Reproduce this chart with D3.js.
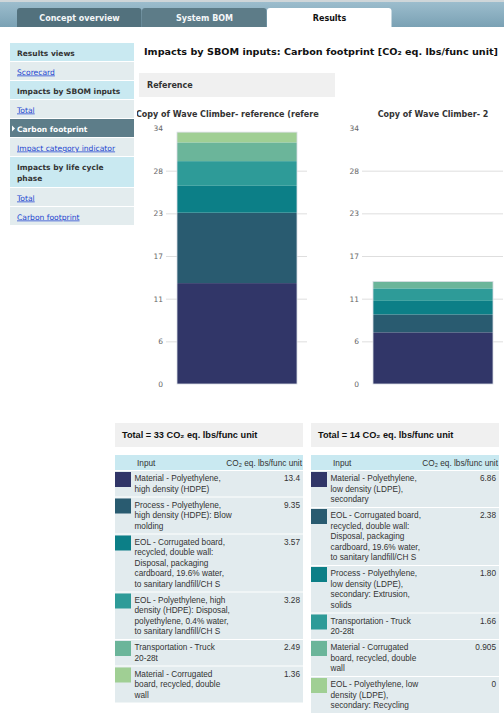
<!DOCTYPE html>
<html>
<head>
<meta charset="utf-8">
<script src="https://cdn.jsdelivr.net/npm/d3@7"></script>
<style>
html, body { margin: 0; padding: 0; background: #fff; }
svg { display: block; }
</style>
</head>
<body>
<svg id="page" width="504" height="724"></svg>
<script>
// タブとメニュー
var tabNames = ["Concept overview", "System BOM", "Results"];
var activeTab = 2;
var menuLabels = ["Results views", "Scorecard", "Impacts by SBOM inputs", "Total", "Carbon footprint",
	"Impact category indicator", "Impacts by life cycle phase", "Total", "Carbon footprint"];
var menuKinds = ["head", "link", "head", "link", "active", "link", "head", "link", "link"];

// グラフのデータ
var pageTitle = "Impacts by SBOM inputs: Carbon footprint [CO₂ eq. lbs/func unit]";
var groupName = "Reference";
var chartNames = ["Copy of Wave Climber- reference (reference)", "Copy of Wave Climber- 2"];
var yMax = 34;
var tickSteps = 6;
var refInputs = [
	"Material - Polyethylene, high density (HDPE)",
	"Process - Polyethylene, high density (HDPE): Blow molding",
	"EOL - Corrugated board, recycled, double wall: Disposal, packaging cardboard, 19.6% water, to sanitary landfill/CH S",
	"EOL - Polyethylene, high density (HDPE): Disposal, polyethylene, 0.4% water, to sanitary landfill/CH S",
	"Transportation - Truck 20-28t",
	"Material - Corrugated board, recycled, double wall"
];
var refValues = [13.4, 9.35, 3.57, 3.28, 2.49, 1.36];
var altInputs = [
	"Material - Polyethylene, low density (LDPE), secondary",
	"EOL - Corrugated board, recycled, double wall: Disposal, packaging cardboard, 19.6% water, to sanitary landfill/CH S",
	"Process - Polyethylene, low density (LDPE), secondary: Extrusion, solids",
	"Transportation - Truck 20-28t",
	"Material - Corrugated board, recycled, double wall",
	"EOL - Polyethylene, low density (LDPE), secondary: Recycling"
];
var altValues = [6.86, 2.38, 1.80, 1.66, 0.905, 0];
var segColors = ["#313668", "#295b70", "#0c7f87", "#2e9b98", "#6bb59a", "#a0cf94"];
var unitLabel = "CO₂ eq. lbs/func unit";

var charts = [
	{ name: chartNames[0], inputs: refInputs, values: refValues },
	{ name: chartNames[1], inputs: altInputs, values: altValues }
];

var verdana = "'DejaVu Sans', Verdana, sans-serif";
var arial = "'Liberation Sans', Arial, sans-serif";
var svg = d3.select("#page");
var defs = svg.append("defs");

// 長いテキストを折り返す
function wrapText(sel, str, maxW, lh) {
	var words = str.split(" "), line = [], n = 1;
	var x = sel.attr("x");
	var ts = sel.append("tspan").attr("x", x).attr("dy", 0);
	words.forEach(function(w) {
		line.push(w);
		ts.text(line.join(" "));
		if (ts.node().getComputedTextLength() > maxW && line.length > 1) {
			line.pop();
			ts.text(line.join(" "));
			line = [w];
			n++;
			ts = sel.append("tspan").attr("x", x).attr("dy", lh).text(w);
		}
	});
	return n;
}

// 上部のバー
var grad = defs.append("linearGradient").attr("id", "band")
	.attr("x1", 0).attr("y1", 0).attr("x2", 0).attr("y2", 1);
grad.append("stop").attr("offset", 0).attr("stop-color", "#9cbdcd");
grad.append("stop").attr("offset", 1).attr("stop-color", "#7aa1b4");
svg.append("rect").attr("x", 0).attr("y", 0).attr("width", 504).attr("height", 2).attr("fill", "#cfd6d9");
svg.append("rect").attr("x", 0).attr("y", 2).attr("width", 504).attr("height", 25).attr("fill", "url(#band)");

var tabX = d3.scaleBand().domain(d3.range(tabNames.length)).range([17, 17 + 125 * 3]);
var tabs = svg.selectAll("g.tab").data(tabNames).enter().append("g").attr("class", "tab");
tabs.append("rect")
	.attr("x", function(d, i) { return tabX(i); })
	.attr("y", 8)
	.attr("width", tabX.bandwidth() - 0.5)
	.attr("height", 24)
	.attr("rx", 3)
	.attr("fill", function(d, i) { return i === activeTab ? "#ffffff" : (i === 0 ? "#52717d" : "#5d7c88"); });
tabs.append("text")
	.attr("x", function(d, i) { return tabX(i) + tabX.bandwidth() / 2; })
	.attr("y", 21)
	.attr("text-anchor", "middle")
	.attr("font-family", verdana)
	.attr("font-weight", "bold")
	.attr("font-size", 8)
	.attr("fill", function(d, i) { return i === activeTab ? "#111" : "#f4f7f8"; })
	.text(function(d) { return d; });
svg.append("rect").attr("x", 0).attr("y", 27).attr("width", 504).attr("height", 697).attr("fill", "#fff");

// 左メニュー
var menuY = 43;
menuLabels.forEach(function(label, i) {
	var kind = menuKinds[i];
	var g = svg.append("g");
	var bg = g.append("rect").attr("x", 10).attr("y", menuY).attr("width", 124)
		.attr("fill", kind === "head" ? "#c9e9f1" : (kind === "active" ? "#5d7d89" : "#e3ecee"));
	var t = g.append("text")
		.attr("x", 17)
		.attr("y", menuY + 12.5)
		.attr("font-family", verdana)
		.attr("font-size", kind === "link" ? 7.6 : 7.5)
		.attr("font-weight", kind === "link" ? "normal" : "bold")
		.attr("fill", kind === "link" ? "#2447d0" : (kind === "active" ? "#fff" : "#333"))
		.attr("text-decoration", kind === "link" ? "underline" : null);
	var n = wrapText(t, label, 110, 11.5);
	if (kind === "active") {
		g.append("path").attr("d", "M12," + (menuY + 6.5) + "l3,3l-3,3z").attr("fill", "#fff");
	}
	var h = 19 + (n - 1) * 12;
	bg.attr("height", h - 1);
	menuY += h;
});

// タイトル
svg.append("text")
	.attr("x", 144).attr("y", 55)
	.attr("font-family", verdana).attr("font-weight", "bold").attr("font-size", 9)
	.attr("textLength", 354).attr("lengthAdjust", "spacingAndGlyphs")
	.attr("fill", "#111")
	.text(pageTitle);
svg.append("rect").attr("x", 139).attr("y", 73).attr("width", 196).attr("height", 24).attr("fill", "#f0f0f0");
svg.append("text")
	.attr("x", 147).attr("y", 88)
	.attr("font-family", verdana).attr("font-weight", "bold").attr("font-size", 8)
	.attr("fill", "#333")
	.text(groupName);

// 積み上げ棒グラフ
var chartX = d3.scaleBand().domain(d3.range(charts.length)).range([137, 137 + 196 * charts.length]);
var y = d3.scaleLinear().domain([0, yMax]).range([384, 128]);
var tickVals = d3.range(0, tickSteps + 1).map(function(i) { return yMax * i / tickSteps; });

charts.forEach(function(c, ci) {
	var ox = chartX(ci);
	var g = svg.append("g").attr("transform", "translate(" + ox + ",0)");
	defs.append("clipPath").attr("id", "clip" + ci)
		.append("rect").attr("x", 0).attr("y", 100).attr("width", 182).attr("height", 20);
	g.append("text")
		.attr("clip-path", "url(#clip" + ci + ")")
		.attr("x", 100).attr("y", 117)
		.attr("text-anchor", "middle")
		.attr("font-family", verdana).attr("font-weight", "bold").attr("font-size", 8)
		.attr("fill", "#333")
		.text(c.name);

	// 目盛り線
	g.append("g")
		.attr("transform", "translate(29,0)")
		.call(d3.axisRight(y).tickValues(tickVals.slice(1, -1)).tickSize(141).tickFormat(""))
		.call(function(a) {
			a.select(".domain").remove();
			a.selectAll("line").attr("stroke", "#dedede");
		});
	// 目盛りラベル
	g.append("g")
		.attr("transform", "translate(26,0)")
		.call(d3.axisLeft(y).tickValues(tickVals).tickSize(0).tickPadding(0)
			.tickFormat(function(d) { return Math.round(d); }))
		.call(function(a) {
			a.select(".domain").remove();
			a.selectAll("text").attr("font-family", verdana).attr("font-size", 7.5).attr("fill", "#666");
		});

	var tops = d3.cumsum(c.values);
	var bar = g.append("g");
	bar.selectAll("rect")
		.data(c.values)
		.enter()
		.append("rect")
		.attr("x", 40)
		.attr("width", 120)
		.attr("y", function(d, i) { return y(tops[i]); })
		.attr("height", function(d, i) { return y(tops[i] - d) - y(tops[i]); })
		.attr("fill", function(d, i) { return segColors[i]; });
	bar.append("rect")
		.attr("x", 40).attr("width", 120)
		.attr("y", y(tops[tops.length - 1]))
		.attr("height", y(0) - y(tops[tops.length - 1]))
		.attr("fill", "none").attr("stroke", "#d8dde4").attr("stroke-width", 0.8);
});

// 表
function fmtValue(v) { return v === 0 ? "0" : d3.format(".3r")(v); }

charts.forEach(function(c, ci) {
	var tx = chartX(ci) - 22;
	var g = svg.append("g").attr("transform", "translate(" + tx + ",0)");
	g.append("rect").attr("x", 0).attr("y", 423).attr("width", 188).attr("height", 24).attr("fill", "#f0f0f0");
	g.append("text")
		.attr("x", 7).attr("y", 438)
		.attr("font-family", arial).attr("font-weight", "bold").attr("font-size", 9.2)
		.attr("fill", "#111")
		.text("Total = " + d3.format(".0f")(d3.sum(c.values)) + " " + unitLabel);

	g.append("rect").attr("x", 0).attr("y", 455).attr("width", 188).attr("height", 15).attr("fill", "#c9e9f1");
	g.append("text").attr("x", 22).attr("y", 465.5)
		.attr("font-family", arial).attr("font-size", 8.25).attr("fill", "#333").text("Input");
	g.append("text").attr("x", 187).attr("y", 465.5).attr("text-anchor", "end")
		.attr("font-family", arial).attr("font-size", 8.25).attr("fill", "#333").text(unitLabel);

	var rowY = 471;
	c.inputs.forEach(function(label, i) {
		var row = g.append("g");
		var bg = row.append("rect").attr("x", 0).attr("y", rowY).attr("width", 188).attr("fill", "#e2ebee");
		row.append("rect").attr("x", 0).attr("y", rowY + 1).attr("width", 16).attr("height", 15)
			.attr("fill", segColors[i]);
		var t = row.append("text")
			.attr("x", 19.5).attr("y", rowY + 10)
			.attr("font-family", arial).attr("font-size", 8.25).attr("fill", "#333");
		var n = wrapText(t, label, 98.2, 10.5);
		row.append("text")
			.attr("x", 185).attr("y", rowY + 10).attr("text-anchor", "end")
			.attr("font-family", arial).attr("font-size", 8.25).attr("fill", "#333")
			.text(fmtValue(c.values[i]));
		var h = n * 10.5 + 4.5;
		bg.attr("height", h);
		rowY += h + 1;
	});
});
</script>
</body>
</html>
